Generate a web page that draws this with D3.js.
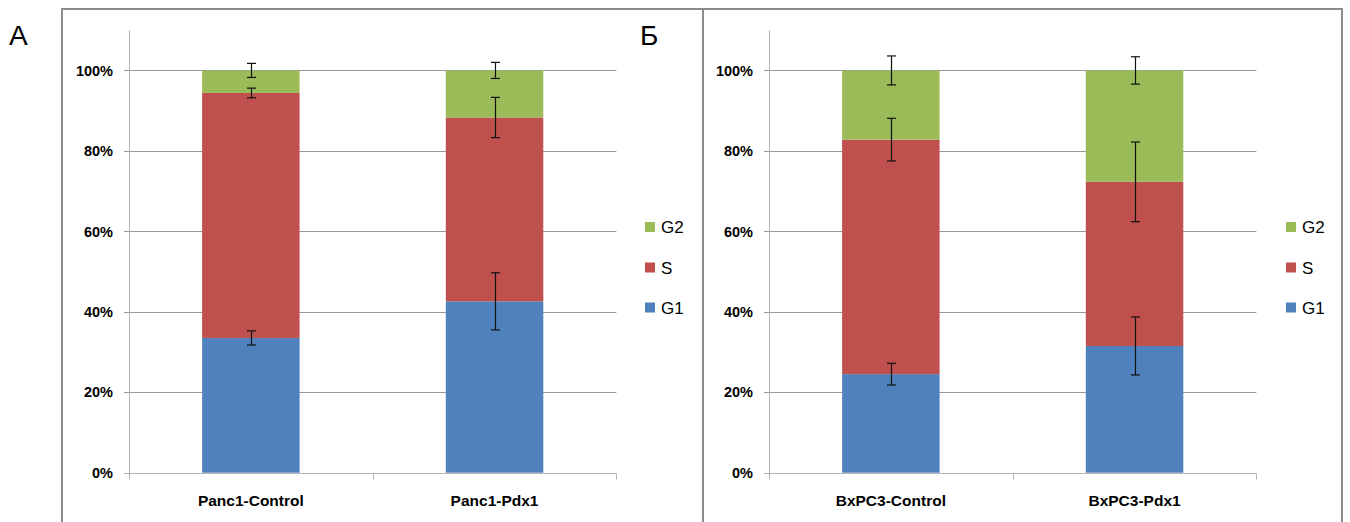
<!DOCTYPE html>
<html><head><meta charset="utf-8">
<script src="https://cdn.jsdelivr.net/npm/d3@7"></script>
<style>html,body{margin:0;padding:0;background:#fff;}svg{display:block;}</style>
</head><body>
<svg id="chart" width="1350" height="522"></svg>
<script>
// ---- data ----
const panelLetters = ["А", "Б"];
const categoriesA = ["Panc1-Control", "Panc1-Pdx1"];
const categoriesB = ["BxPC3-Control", "BxPC3-Pdx1"];
const seriesNames = ["G1", "S", "G2"];
const g1A = [33.5, 42.6];
const sA  = [60.9, 45.7];
const g2A = [5.6, 11.7];
const g1ErrA = [1.75, 7.1];
const sErrA  = [1.2, 5.0];
const g2ErrA = [1.75, 2.0];
const g1B = [24.5, 31.5];
const sB  = [58.3, 40.8];
const g2B = [17.2, 27.7];
const g1ErrB = [2.7, 7.2];
const sErrB  = [5.3, 9.9];
const g2ErrB = [3.6, 3.4];
const yTicks = [0, 20, 40, 60, 80, 100];
const yTickLabels = ["0%", "20%", "40%", "60%", "80%", "100%"];
const colors = {G1: "#4f81bd", S: "#c0504d", G2: "#9bbb59"};

const svg = d3.select("#chart");
const FONT = "'Liberation Sans', Arial, sans-serif";

// frame
const frame = svg.append("g").attr("fill", "none").attr("stroke", "#8c8c8c").attr("stroke-width", 2);
frame.append("line").attr("x1", 62).attr("x2", 1342).attr("y1", 9).attr("y2", 9);
frame.append("line").attr("x1", 62).attr("x2", 62).attr("y1", 8).attr("y2", 522);
frame.append("line").attr("x1", 703).attr("x2", 703).attr("y1", 8).attr("y2", 522);
frame.append("line").attr("x1", 1342).attr("x2", 1342).attr("y1", 8).attr("y2", 522);

const panels = [
  {letter: panelLetters[0], lx: 9, cats: categoriesA, g1: g1A, s: sA, g2: g2A, e: [g1ErrA, sErrA, g2ErrA], x0: 129, legX: 645},
  {letter: panelLetters[1], lx: 640, cats: categoriesB, g1: g1B, s: sB, g2: g2B, e: [g1ErrB, sErrB, g2ErrB], x0: 769, legX: 1286}
];

const y = d3.scaleLinear().domain([0, 110]).range([472.7, 30.2]);
const plotW = 487.4;

panels.forEach(p => {
  const g = svg.append("g");
  g.append("text").attr("x", p.lx).attr("y", 45).text(p.letter)
    .attr("font-family", FONT).attr("font-size", 28).attr("fill", "#000");

  const x = d3.scaleBand().domain(p.cats).range([p.x0, p.x0 + plotW])
    .paddingInner(0.6).paddingOuter(0.3);
  const step = x.step();

  // gridlines
  yTicks.filter(t => t > 0).forEach(t => {
    const yy = Math.round(y(t)) + 0.5;
    g.append("line").attr("x1", p.x0 - 5).attr("x2", p.x0 + plotW).attr("y1", yy).attr("y2", yy)
      .attr("stroke", "#9a9a9a").attr("stroke-width", 1);
  });
  // y axis
  const ax = Math.round(p.x0) + 0.5;
  const y0 = Math.round(y(0)) + 0.5;
  g.append("line").attr("x1", ax).attr("x2", ax).attr("y1", y(110)).attr("y2", y0 + 6)
    .attr("stroke", "#b4b4b4");
  g.append("line").attr("x1", p.x0 - 5).attr("x2", p.x0 + plotW).attr("y1", y0).attr("y2", y0)
    .attr("stroke", "#b4b4b4");
  [1, 2].forEach(i => {
    const tx = Math.round(p.x0 + i * step) + 0.5;
    g.append("line").attr("x1", tx).attr("x2", tx).attr("y1", y0).attr("y2", y0 + 6).attr("stroke", "#b4b4b4");
  });
  // y tick labels
  g.selectAll(".yt").data(yTicks).join("text")
    .attr("x", p.x0 - 16).attr("y", d => y(d)).attr("dy", "0.36em")
    .attr("text-anchor", "end").attr("font-family", FONT).attr("font-weight", "bold")
    .attr("font-size", 14.5).attr("fill", "#000")
    .text((d, i) => yTickLabels[i]);
  // x labels
  g.selectAll(".xl").data(p.cats).join("text")
    .attr("x", d => x(d) + x.bandwidth() / 2).attr("y", 506)
    .attr("text-anchor", "middle").attr("font-family", FONT).attr("font-weight", "bold")
    .attr("font-size", 15.5).attr("fill", "#000").text(d => d);

  // stacked bars
  const rows = p.cats.map((c, i) => ({cat: c, G1: p.g1[i], S: p.s[i], G2: p.g2[i]}));
  const stacked = d3.stack().keys(seriesNames)(rows);
  stacked.forEach((layer, li) => {
    g.selectAll(null).data(layer).join("rect")
      .attr("x", d => x(d.data.cat)).attr("width", x.bandwidth())
      .attr("y", d => y(d[1])).attr("height", d => y(d[0]) - y(d[1]))
      .attr("fill", colors[layer.key]);
  });
  // error bars
  stacked.forEach((layer, li) => {
    layer.forEach((d, i) => {
      const cx = Math.round(x(d.data.cat) + x.bandwidth() / 2) + 0.5;
      const err = p.e[li][i];
      const yt = y(d[1] + err), yb = y(d[1] - err);
      const eg = g.append("g").attr("stroke", "#111").attr("stroke-width", 1.2);
      eg.append("line").attr("x1", cx).attr("x2", cx).attr("y1", yt).attr("y2", yb);
      eg.append("line").attr("x1", cx - 4.5).attr("x2", cx + 4.5).attr("y1", yt).attr("y2", yt);
      eg.append("line").attr("x1", cx - 4.5).attr("x2", cx + 4.5).attr("y1", yb).attr("y2", yb);
    });
  });

  // legend
  const legY = [227, 267.5, 307.5];
  const legOrder = ["G2", "S", "G1"];
  legOrder.forEach((k, i) => {
    g.append("rect").attr("x", p.legX).attr("y", legY[i] - 5).attr("width", 10).attr("height", 10)
      .attr("fill", colors[k]);
    g.append("text").attr("x", p.legX + 16).attr("y", legY[i]).attr("dy", "0.36em")
      .attr("font-family", FONT).attr("font-size", 17).attr("fill", "#000").text(k);
  });
});
</script>
</body></html>
